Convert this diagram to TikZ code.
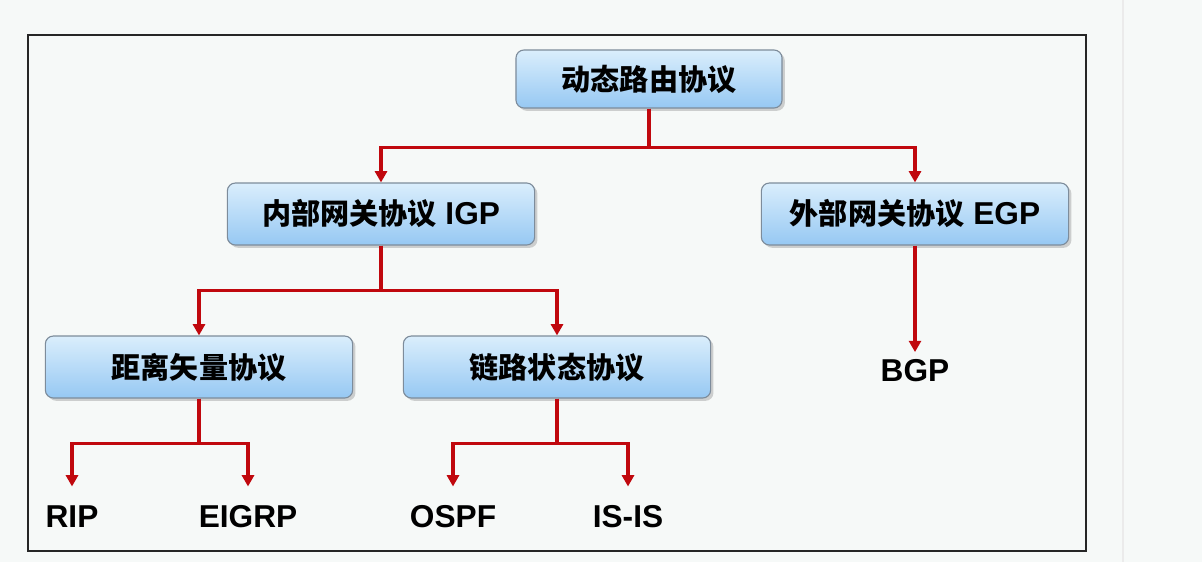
\documentclass[tikz,border=0pt]{standalone}
\usepackage{fontspec}
\setmainfont{Liberation Sans}
\newfontfamily\cjk[Scale=0.92]{Noto Sans CJK SC}
\usetikzlibrary{arrows.meta}
\usetikzlibrary{shadows}
\usetikzlibrary{positioning}
\definecolor{linkred}{RGB}{192, 8, 14}
\definecolor{boxtop}{RGB}{218, 238, 252}
\definecolor{boxbottom}{RGB}{150, 200, 243}
\definecolor{boxline}{RGB}{125, 140, 155}
\definecolor{pagebg}{RGB}{246, 249, 248}
\tikzset{protobox/.style = {draw=boxline, line width=0.8pt, rounded corners=0.2cm,
                            top color=boxtop, bottom color=boxbottom,
                            minimum width=7.68cm, minimum height=1.55cm,
                            drop shadow={shadow xshift=0.07cm, shadow yshift=-0.07cm, opacity=0.35},
                            font=\bfseries\fontsize{22.5}{27}\selectfont}}
\tikzset{leaf/.style = {inner sep=0pt, text height=16pt, text depth=0pt,
                        font=\bfseries\fontsize{22.5}{27}\selectfont}}
\tikzset{link/.style = {draw=linkred, line width=2.3pt,
                        -{Triangle[length=8pt, width=8.5pt]}}}

\begin{document}
\begin{tikzpicture}[x=0.025cm, y=-0.025cm]
      \useasboundingbox (0, 0) rectangle (1202, 562);
      \fill[pagebg] (0, 0) rectangle (1202, 562);
      \draw[black!8, line width=0.8pt] (1123, 0) -- (1123, 562);
      \draw[black!85, line width=1.6pt] (28, 35) rectangle (1086, 551);

      \node[protobox, minimum width=6.65cm, minimum height=1.45cm] (dyn) at (649, 79) {\cjk 动态路由协议};
      \node[protobox] (igp) at (381, 214) {{\cjk 内部网关协议} IGP};
      \node[protobox] (egp) at (915, 214) {{\cjk 外部网关协议} EGP};
      \node[protobox] (dv) at (199, 367) {\cjk 距离矢量协议};
      \node[protobox] (ls) at (557, 367) {\cjk 链路状态协议};
      \node[leaf] (bgp) at (915, 370) {BGP};
      \node[leaf] (rip) at (72, 516) {RIP};
      \node[leaf] (eigrp) at (248, 516) {EIGRP};
      \node[leaf] (ospf) at (453, 516) {OSPF};
      \node[leaf] (isis) at (628, 516) {IS-IS};

      \draw[link] (dyn.south) -- ++(0, 39) -| (igp.north);
      \draw[link] (dyn.south) -- ++(0, 39) -| (egp.north);
      \draw[link] (igp.south) -- ++(0, 45) -| (dv.north);
      \draw[link] (igp.south) -- ++(0, 45) -| (ls.north);
      \draw[link, shorten >=0.16cm] (egp.south) -- (bgp.north);
      \draw[link, shorten >=0.45cm] (dv.south) -- ++(0, 45) -| (rip.north);
      \draw[link, shorten >=0.45cm] (dv.south) -- ++(0, 45) -| (eigrp.north);
      \draw[link, shorten >=0.45cm] (ls.south) -- ++(0, 45) -| (ospf.north);
      \draw[link, shorten >=0.45cm] (ls.south) -- ++(0, 45) -| (isis.north);
    \end{tikzpicture}
\end{document}
